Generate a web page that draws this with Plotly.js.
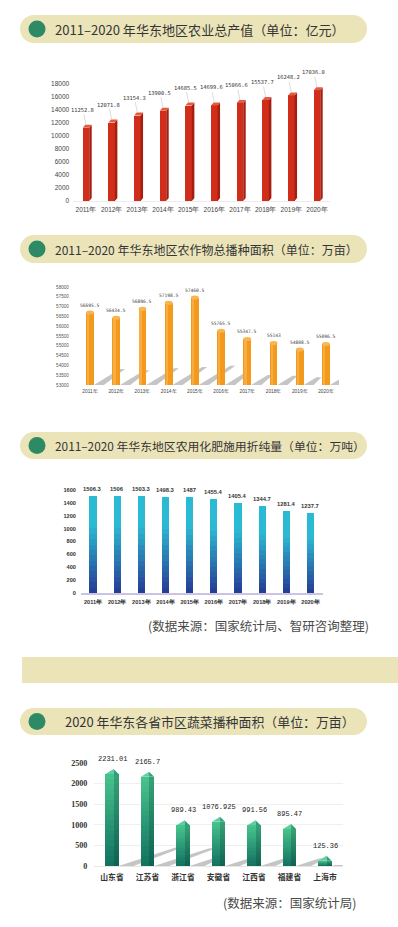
<!DOCTYPE html>
<html><head><meta charset="utf-8">
<script src="https://cdn.plot.ly/plotly-3.0.1.min.js"></script>
<style>html,body{margin:0;padding:0;background:#fff;}#chart{width:398px;height:927px;}</style>
</head><body><div id="chart"></div>
<script>
// ---------------- data ----------------
const years = ['2011年','2012年','2013年','2014年','2015年','2016年','2017年','2018年','2019年','2020年'];
const outputValue = [11252.8, 12071.8, 13154.3, 13900.5, 14685.5, 14699.6, 15066.6, 15537.7, 16248.2, 17036.0];
const sownArea = [56695.5, 56434.5, 56896.5, 57198.5, 57460.5, 55765.5, 55347.5, 55143, 54808.5, 55096.5];
const fertilizer = [1506.3, 1506, 1503.3, 1498.3, 1487, 1455.4, 1405.4, 1344.7, 1281.4, 1237.7];
const provinces = ['山东省','江苏省','浙江省','安徽省','江西省','福建省','上海市'];
const vegArea = [2231.01, 2165.7, 989.43, 1076.925, 991.56, 895.47, 125.36];
const titles = [
  '2011–2020 年华东地区农业总产值（单位：亿元）',
  '2011–2020 年华东地区农作物总播种面积（单位：万亩）',
  '2011–2020 年华东地区农用化肥施用折纯量（单位：万吨）',
  '2020 年华东各省市区蔬菜播种面积（单位：万亩）'
];
const sources = ['(数据来源：国家统计局、智研咨询整理)', '(数据来源：国家统计局)'];

// ---------------- helpers ----------------
const W = 398, H = 927;
const PX = p => p / W;
const PY = p => 1 - p / H;
function xdom(c0, cN, n) { const s = (cN - c0) / (n - 1); return { domain: [PX(c0 - s / 2), PX(cN + s / 2)], s: s }; }
function hex(c) { return [parseInt(c.slice(1,3),16), parseInt(c.slice(3,5),16), parseInt(c.slice(5,7),16)]; }
function mix(a, b, t) { const A = hex(a), B = hex(b); return 'rgb(' + A.map((v, i) => Math.round(v + (B[i] - v) * t)).join(',') + ')'; }
const ctx = document.createElement('canvas').getContext('2d');
function fitSize(text, family, target, ref) {
  ctx.font = ref + 'px "' + family + '"';
  const w = ctx.measureText(text).width;
  return w > 0 ? Math.min(14, ref * target / w) : 13;
}
const idx10 = years.map((_, i) => i);
const idx7 = provinces.map((_, i) => i);

const X1 = xdom(86, 317, 10), X2 = xdom(90, 326, 10), X3 = xdom(93, 310.5, 10), X4 = xdom(112, 325, 7);
const Y1 = [PY(201), PY(84)], Y2 = [PY(385), PY(287)], Y3 = [PY(593), PY(490)], Y4 = [PY(866), PY(763)];
const pxv1 = 117 / 18000, pxv2 = 98 / 5000, pxv3 = 103 / 1600, pxv4 = 103 / 2500;

const traces = [];
const shapes = [];
const annotations = [];
const beige = '#ebe4b9';
const green = '#2e8a64';

// ---------- title pills ----------
const pills = [[15, 43, 53, 290], [235, 263, 53, 303], [432, 459, 53, 310], [708, 735, 63, 290]];
pills.forEach((p, k) => {
  const [t, b, tx, tw] = p, r = (b - t) / 2, yc = (t + b) / 2;
  shapes.push({type:'rect', xref:'paper', yref:'paper', x0:PX(20 + r), x1:PX(367 - r), y0:PY(b), y1:PY(t), fillcolor:beige, line:{width:0}, layer:'below'});
  shapes.push({type:'circle', xref:'paper', yref:'paper', x0:PX(20), x1:PX(20 + 2 * r), y0:PY(b), y1:PY(t), fillcolor:beige, line:{width:0}, layer:'below'});
  shapes.push({type:'circle', xref:'paper', yref:'paper', x0:PX(367 - 2 * r), x1:PX(367), y0:PY(b), y1:PY(t), fillcolor:beige, line:{width:0}, layer:'below'});
  shapes.push({type:'circle', xref:'paper', yref:'paper', x0:PX(37 - 8.5), x1:PX(37 + 8.5), y0:PY(yc + 8.5), y1:PY(yc - 8.5), fillcolor:green, line:{width:0}});
  const fs = fitSize(titles[k], 'Noto Sans CJK SC', tw, 14);
  annotations.push({xref:'paper', yref:'paper', x:PX(tx), y:PY(yc), xanchor:'left', yanchor:'middle', showarrow:false,
    text:titles[k], font:{family:'Noto Sans CJK SC', size:fs, color:'#353535'}});
});
// separator band
shapes.push({type:'rect', xref:'paper', yref:'paper', x0:PX(22), x1:PX(398), y0:PY(683), y1:PY(657), fillcolor:beige, line:{width:0}, layer:'below'});

// ---------- chart 1 : 3D red bars ----------
const w1 = 0.25, sx1 = 2.5 / X1.s, sy1 = 3 / pxv1;
traces.push({type:'bar', x:idx10, y:outputValue, width:w1, marker:{color:'#d12d1b', line:{width:0}}, xaxis:'x', yaxis:'y', hoverinfo:'skip'});
outputValue.forEach((v, i) => {
  const xl = i - w1 / 2, xr = i + w1 / 2;
  shapes.push({type:'path', xref:'x', yref:'y', path:`M ${xr},0 L ${xr},${v} L ${xr + sx1},${v + sy1} L ${xr + sx1},${sy1} Z`, fillcolor:'#a51f10', line:{width:0}});
  shapes.push({type:'path', xref:'x', yref:'y', path:`M ${xl},${v} L ${xr},${v} L ${xr + sx1},${v + sy1} L ${xl + sx1},${v + sy1} Z`, fillcolor:'#e65a3e', line:{width:0}});
  annotations.push({xref:'x', yref:'y', x:i, y:v + sy1, text:v.toFixed(1), showarrow:true, arrowhead:0, arrowwidth:0.6, arrowcolor:'#c4c4c4',
    ax:-3, ay:-15, standoff:0, font:{family:'DejaVu Sans Mono', size:5.4, color:'#333'}});
});

// ---------- chart 2 : orange cylinders ----------
const w2 = 0.3, base2 = 53000;
sownArea.forEach((v, i) => {
  const h = v - base2, hp = h * pxv2;
  const x0 = i + w2 / 2, dxc = 0.36 * hp / X2.s, dyv = 0.22 * h, tc = 10 / X2.s;
  shapes.push({type:'path', xref:'x2', yref:'y2', layer:'below', path:`M ${x0},${base2} L ${x0 + dxc},${base2 + dyv} L ${x0 + dxc + tc * 0.5},${base2 + dyv} L ${x0 + tc},${base2} Z`, fillcolor:'rgba(140,140,140,0.5)', line:{width:0}});
});
traces.push({type:'bar', x:idx10, y:sownArea, width:w2, marker:{color:'#f39a1d', line:{width:0}}, xaxis:'x2', yaxis:'y2', hoverinfo:'skip'});
traces.push({type:'bar', x:idx10, y:sownArea, width:w2 * 0.3, offset:-w2 / 2 + w2 * 0.12, marker:{color:'rgba(255,210,140,0.35)', line:{width:0}}, xaxis:'x2', yaxis:'y2', hoverinfo:'skip'});
sownArea.forEach((v, i) => {
  const e = 2 / pxv2;
  shapes.push({type:'circle', xref:'x2', yref:'y2', x0:i - w2 / 2, x1:i + w2 / 2, y0:v - e, y1:v + e, fillcolor:'#f8b650', line:{width:0}});
  annotations.push({xref:'x2', yref:'y2', x:i, y:v + e, yanchor:'bottom', yshift:1, showarrow:false, text:String(v),
    font:{family:'DejaVu Sans Mono', size:4.6, color:'#444'}});
});

// ---------- chart 3 : gradient blue bars ----------
const w3 = 0.29, N3 = 18;
for (let k = 0; k < N3; k++) {
  const f = 1 - k / N3, tm = f - 0.5 / N3;
  traces.push({type:'bar', x:idx10, y:fertilizer.map(v => v * f), width:w3,
    marker:{color:mix('#263a93', '#2bbad3', Math.min(1, tm / 0.7)), line:{width:0}}, xaxis:'x3', yaxis:'y3', hoverinfo:'skip'});
}
fertilizer.forEach((v, i) => {
  annotations.push({xref:'x3', yref:'y3', x:i, y:v, yanchor:'bottom', yshift:2, showarrow:false, text:String(v),
    font:{family:'Liberation Sans', size:5.8, color:'#333', weight:'bold'}});
});

// ---------- chart 4 : green prisms ----------
const w4 = 0.37, N4 = 18, side4 = 0.14, capH = 5 / pxv4;
vegArea.forEach((v, i) => {
  const hp = v * pxv4, x0 = i + w4 / 2, dxc = 0.62 * hp / X4.s, dyv = 0.2 * v, tc = 15 / X4.s;
  shapes.push({type:'path', xref:'x4', yref:'y4', layer:'below', path:`M ${x0},0 L ${x0 + dxc},${dyv} L ${x0 + dxc + tc * 0.45},${dyv} L ${x0 + tc},0 Z`, fillcolor:'rgba(140,140,140,0.5)', line:{width:0}});
});
for (let k = 0; k < N4; k++) {
  const f = 1 - k / N4, tm = f - 0.5 / N4;
  traces.push({type:'bar', x:idx7, y:vegArea.map(v => v * f), width:w4,
    marker:{color:mix('#12705f', '#47c48e', tm), line:{width:0}}, xaxis:'x4', yaxis:'y4', hoverinfo:'skip'});
}
traces.push({type:'bar', x:idx7, y:vegArea, width:side4, offset:w4 / 2 - side4, marker:{color:'rgba(0,45,35,0.22)', line:{width:0}}, xaxis:'x4', yaxis:'y4', hoverinfo:'skip'});
vegArea.forEach((v, i) => {
  const xl = i - w4 / 2, xr = i + w4 / 2, ap = xr - side4;
  shapes.push({type:'path', xref:'x4', yref:'y4', path:`M ${xl},${v} L ${ap},${v + capH} L ${ap},${v} Z`, fillcolor:'#5ccf9c', line:{width:0}});
  shapes.push({type:'path', xref:'x4', yref:'y4', path:`M ${ap},${v} L ${ap},${v + capH} L ${xr},${v} Z`, fillcolor:'#2f9e7c', line:{width:0}});
  annotations.push({xref:'x4', yref:'y4', x:i, y:v + capH, yanchor:'bottom', yshift:4, showarrow:false, text:String(v),
    font:{family:'Liberation Mono', size:7, color:'#222'}});
});

// ---------- source notes ----------
annotations.push({xref:'paper', yref:'paper', x:PX(371), y:PY(625), xanchor:'right', yanchor:'middle', showarrow:false, text:sources[0],
  font:{family:'Noto Sans CJK SC', size:12.5, color:'#4a4a4a'}});
annotations.push({xref:'paper', yref:'paper', x:PX(358), y:PY(902), xanchor:'right', yanchor:'middle', showarrow:false, text:sources[1],
  font:{family:'Noto Sans CJK SC', size:12.5, color:'#4a4a4a'}});

// ---------- axes ----------
const baseX = {showgrid:false, zeroline:false, ticks:'', fixedrange:true};
const baseY = {showgrid:false, zeroline:false, ticks:'', fixedrange:true, tickformat:'d', showline:false};
const layout = {
  width:W, height:H, margin:{l:0, r:0, t:0, b:0}, paper_bgcolor:'#fff', plot_bgcolor:'rgba(0,0,0,0)',
  showlegend:false, barmode:'overlay', bargap:0,
  xaxis: Object.assign({}, baseX, {domain:X1.domain, range:[-0.5, 9.5], tickvals:idx10, ticktext:years, anchor:'y',
    showline:true, linecolor:'#ececec', linewidth:1, ticklabelstandoff:2, tickfont:{family:'Liberation Sans', size:6.5, color:'#444'}}),
  yaxis: Object.assign({}, baseY, {domain:Y1, range:[0, 18000], dtick:2000, anchor:'x', ticklabelstandoff:3,
    tickfont:{family:'Liberation Sans', size:6.5, color:'#444'}}),
  xaxis2: Object.assign({}, baseX, {domain:X2.domain, range:[-0.5, 9.5], tickvals:idx10, ticktext:years, anchor:'y2', showline:false,
    ticklabelstandoff:2, tickfont:{family:'Liberation Sans', size:4.8, color:'#444'}}),
  yaxis2: Object.assign({}, baseY, {domain:Y2, range:[53000, 58000], dtick:500, anchor:'x2', ticklabelstandoff:7,
    tickfont:{family:'Liberation Sans', size:4.6, color:'#555'}}),
  xaxis3: Object.assign({}, baseX, {domain:X3.domain, range:[-0.5, 9.5], tickvals:idx10, ticktext:years, anchor:'y3',
    showline:true, linecolor:'#cbc3e3', linewidth:1.5, ticklabelstandoff:3, tickfont:{family:'Liberation Sans', size:5.6, color:'#333', weight:'bold'}}),
  yaxis3: Object.assign({}, baseY, {domain:Y3, range:[0, 1600], dtick:200, anchor:'x3', ticklabelstandoff:4,
    tickfont:{family:'Liberation Sans', size:5.6, color:'#333', weight:'bold'}}),
  xaxis4: Object.assign({}, baseX, {domain:X4.domain, range:[-0.5, 6.5], tickvals:idx7, ticktext:provinces, anchor:'y4',
    showline:true, linecolor:'#e6e6e6', linewidth:1, ticklabelstandoff:4, tickfont:{family:'Noto Sans CJK SC', size:7.8, color:'#333', weight:'bold'}}),
  yaxis4: Object.assign({}, baseY, {domain:Y4, range:[0, 2500], dtick:500, anchor:'x4', showgrid:true, gridcolor:'#efefef', gridwidth:1,
    ticklabelstandoff:6, tickfont:{family:'Liberation Serif', size:8, color:'#333', weight:'bold'}}),
  shapes:shapes, annotations:annotations
};
Plotly.newPlot('chart', traces, layout, {staticPlot:true, displayModeBar:false});
</script></body></html>
